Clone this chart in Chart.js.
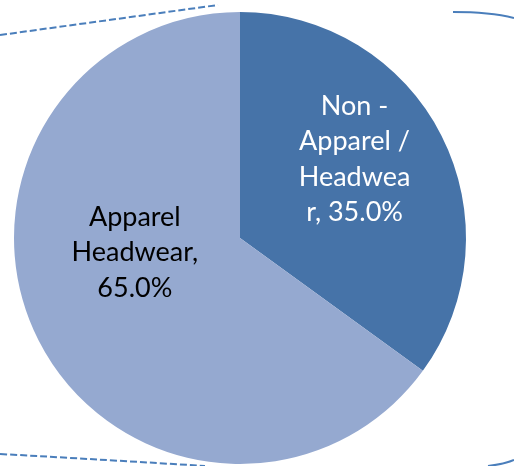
<!DOCTYPE html>
<html>
<head>
<meta charset="utf-8">
<script src="https://cdn.jsdelivr.net/npm/chart.js@4.4.1/dist/chart.umd.min.js"></script>
<style>
  html, body { margin: 0; padding: 0; background: #fff; }
  #wrap { width: 514px; height: 466px; position: relative; }
</style>
</head>
<body>
<div id="wrap"><canvas id="pieChart"></canvas></div>
<script>
const categories = ['Non - Apparel / Headwear', 'Apparel Headwear'];
const shares = [35.0, 65.0];
const sliceColors = ['#4673a8', '#95a9d0'];
const labelLines = [
    ['Non -', 'Apparel /', 'Headwea', 'r, 35.0%'],
    ['Apparel', 'Headwear,', '65.0%']
];
const labelColors = ['#ffffff', '#000000'];

// callout borders cut off by the picture edges
const decoration = {
    id: 'decoration',
    beforeDraw(chart) {
        const ctx = chart.ctx;
        ctx.save();
        ctx.strokeStyle = '#4a7ebb';
        ctx.lineWidth = 2;
        ctx.setLineDash([7, 3]);
        ctx.beginPath();
        ctx.moveTo(0, 35);
        ctx.lineTo(218, 5);
        ctx.stroke();
        ctx.beginPath();
        ctx.moveTo(0, 454);
        ctx.quadraticCurveTo(110, 460, 205, 466);
        ctx.stroke();
        ctx.setLineDash([]);
        ctx.beginPath();
        ctx.moveTo(453, 12);
        ctx.quadraticCurveTo(490, 12, 514, 18);
        ctx.stroke();
        ctx.beginPath();
        ctx.moveTo(488, 466);
        ctx.quadraticCurveTo(505, 464, 514, 460);
        ctx.stroke();
        ctx.restore();
    }
};

// data labels placed inside the slices, the way Excel did it
const sliceLabels = {
    id: 'sliceLabels',
    afterDatasetsDraw(chart) {
        const ctx = chart.ctx;
        const meta = chart.getDatasetMeta(0);
        const place = [{ a: -34.5, f: 0.615 }, { a: 172, f: 0.47 }];
        ctx.save();
        ctx.font = '27px Lato';
        ctx.textAlign = 'center';
        ctx.textBaseline = 'middle';
        meta.data.forEach(function (arc, i) {
            const ang = place[i].a * Math.PI / 180;
            const cx = arc.x + Math.cos(ang) * arc.outerRadius * place[i].f;
            const cy = arc.y + Math.sin(ang) * arc.outerRadius * place[i].f;
            const lines = labelLines[i];
            const lh = 35.5;
            ctx.fillStyle = labelColors[i];
            lines.forEach(function (t, k) {
                ctx.fillText(t, cx, cy + (k - (lines.length - 1) / 2) * lh);
            });
        });
        ctx.restore();
    }
};

const ctx = document.getElementById('pieChart').getContext('2d');
const myChart = new Chart(ctx, {
    type: 'pie',
    data: {
        labels: categories,
        datasets: [{
            data: shares,
            backgroundColor: sliceColors,
            hoverBackgroundColor: sliceColors,
            borderWidth: 0
        }]
    },
    options: {
        responsive: true,
        maintainAspectRatio: false,
        animation: false,
        layout: { padding: { top: 12, bottom: 2, left: 14, right: 48 } },
        plugins: {
            legend: { display: false },
            tooltip: { enabled: false }
        }
    },
    plugins: [decoration, sliceLabels]
});
</script>
</body>
</html>
